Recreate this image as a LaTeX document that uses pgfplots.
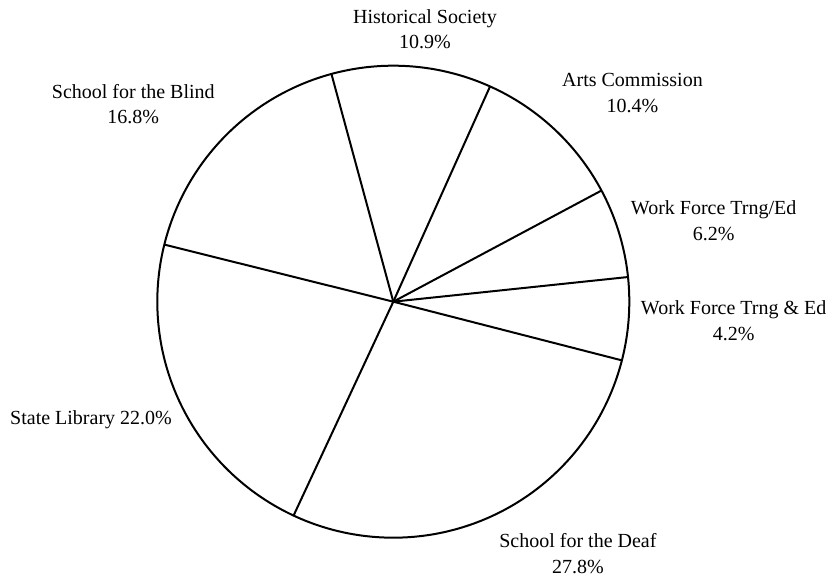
\documentclass[border=0pt]{standalone}
\usepackage{pgfplots}
\pgfplotsset{compat=1.18}
\usepackage{fontspec}
\setmainfont{Liberation Serif}
\begin{document}
\begin{tikzpicture}[x=1bp,y=1bp]
\path[use as bounding box] (0,0) rectangle (838,578);
\begin{axis}[
  at={(393.3bp,276.3bp)}, anchor=origin,
  width=472bp, height=472bp, scale only axis,
  hide axis, clip=false,
  xmin=-1, xmax=1, ymin=-1, ymax=1,
]
% pie outline
\addplot[black, line width=2bp, data cs=polar, domain=0:360, samples=361, no markers] ({x},{1});
% slice boundaries (angle in degrees, radius)
\addplot[black, line width=2bp, data cs=polar] coordinates {(0,0) (245.0,1)};
\addplot[black, line width=2bp, data cs=polar] coordinates {(0,0) (345.6,1)};
\addplot[black, line width=2bp, data cs=polar] coordinates {(0,0) (6.0,1)};
\addplot[black, line width=2bp, data cs=polar] coordinates {(0,0) (28.1,1)};
\addplot[black, line width=2bp, data cs=polar] coordinates {(0,0) (65.8,1)};
\addplot[black, line width=2bp, data cs=polar] coordinates {(0,0) (105.2,1)};
\addplot[black, line width=2bp, data cs=polar] coordinates {(0,0) (166.0,1)};
\end{axis}
\begin{scope}[every node/.style={font=\fontsize{20bp}{25bp}\selectfont, anchor=base, inner sep=0pt}]
\node at (425,554.7) {Historical Society};
\node at (425,529.3) {10.9\%};
\node at (133.3,479.7) {School for the Blind};
\node at (133.3,454) {16.8\%};
\node at (632.5,491.5) {Arts Commission};
\node at (632.5,465.5) {10.4\%};
\node at (713.7,363) {Work Force Trng/Ed};
\node at (713.7,337.3) {6.2\%};
\node at (733.7,263) {Work Force Trng \& Ed};
\node at (733.7,237.3) {4.2\%};
\node[anchor=base west] at (10,153) {State Library 22.0\%};
\node at (577.9,30.7) {School for the Deaf};
\node at (577.9,4.7) {27.8\%};
\end{scope}
\end{tikzpicture}
\end{document}
